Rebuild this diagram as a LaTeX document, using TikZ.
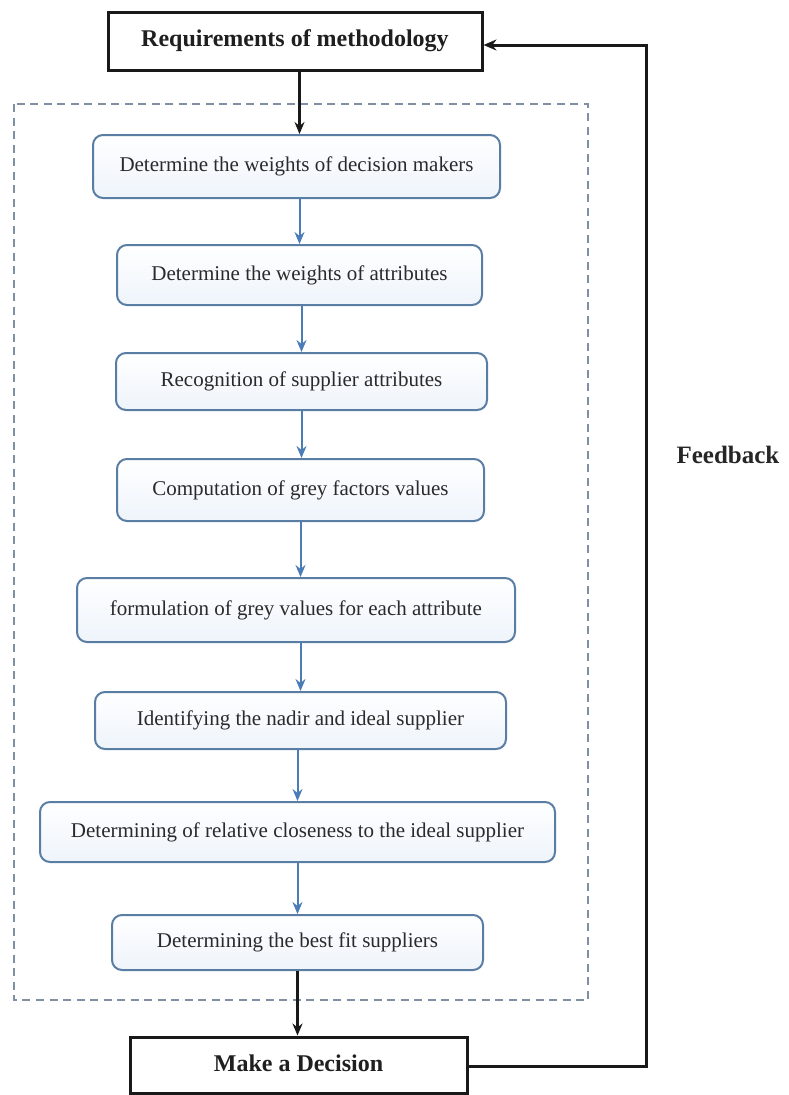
\documentclass[tikz,border=0pt]{standalone}
\usepackage{fontspec}
\setmainfont{Liberation Serif}
\usetikzlibrary{arrows.meta}
\definecolor{boxline}{HTML}{5A7DA3}
\definecolor{boxfill}{HTML}{EEF4FB}
\definecolor{arrblue}{HTML}{4A7DB8}
\definecolor{dashgray}{HTML}{8090A3}
\definecolor{txt}{HTML}{2A2A2A}
\tikzset{
  mainbox/.style={draw=black!90, line width=3pt, fill=white, inner sep=0pt,
    font=\fontsize{24}{28}\selectfont\bfseries, text=black!88},
  stepbox/.style={draw=boxline, line width=2pt, rounded corners=10pt,
    top color=white, bottom color=boxfill, inner sep=0pt,
    font=\fontsize{21}{24}\selectfont, text=txt},
  bluearr/.style={draw=arrblue, line width=2pt, -{Stealth[length=12pt,width=10pt]}},
  blackarr/.style={draw=black!90, line width=2.4pt, -{Stealth[length=12pt,width=10pt]}},
  fbline/.style={draw=black!90, line width=3pt, -{Stealth[length=13pt,width=11pt]}},
}
\newcommand{\up}[1]{\raisebox{3pt}{#1}}
\begin{document}
\begin{tikzpicture}[x=1pt,y=-1pt]
\useasboundingbox (0,0) rectangle (788,1095);
\draw[dashgray, line width=2.4pt, dash pattern=on 8pt off 5.5pt] (14,104) rectangle (588,1000);
\node[mainbox, minimum width=374pt, minimum height=58pt] (req) at (295,41) {Requirements of methodology};
\node[stepbox, minimum width=407pt, minimum height=63pt] (b1) at (296.5,166.5) {\up{Determine the weights of decision makers}};
\node[stepbox, minimum width=365pt, minimum height=60pt] (b2) at (299.5,275) {\up{Determine the weights of attributes}};
\node[stepbox, minimum width=371pt, minimum height=57pt] (b3) at (301.5,381.5) {\up{Recognition of supplier attributes}};
\node[stepbox, minimum width=367pt, minimum height=62pt] (b4) at (300.5,490) {\up{Computation of grey factors values}};
\node[stepbox, minimum width=438pt, minimum height=64pt] (b5) at (296,610) {\up{formulation of grey values for each attribute}};
\node[stepbox, minimum width=411pt, minimum height=57pt] (b6) at (300.5,720.5) {\up{Identifying the nadir and ideal supplier}};
\node[stepbox, minimum width=515pt, minimum height=60pt] (b7) at (297.5,832) {\up{Determining of relative closeness to the ideal supplier}};
\node[stepbox, minimum width=371pt, minimum height=55pt] (b8) at (297.5,942.5) {\up{Determining the best fit suppliers}};
\node[mainbox, minimum width=337pt, minimum height=56pt] (dec) at (298.5,1065) {\up{Make a Decision}};
\node[font=\fontsize{25}{28}\selectfont\bfseries, text=black!85] (fb) at (728,455) {Feedback};
\coordinate (c1) at (646,1066);
\coordinate (c2) at (646,45);
\draw[blackarr] (req.south -| b2.north) -- (b2.north |- b1.north);
\draw[bluearr] (b1.south -| b2.north) -- (b2.north);
\draw[bluearr] (b2.south -| b3.north) -- (b3.north);
\draw[bluearr] (b3.south) -- (b3.south |- b4.north);
\draw[bluearr] (b4.south) -- (b4.south |- b5.north);
\draw[bluearr] (b5.south -| b6.north) -- (b6.north);
\draw[bluearr] (b6.south -| b7.north) -- (b7.north);
\draw[bluearr] (b7.south -| b8.north) -- (b8.north);
\draw[blackarr] (b8.south) -- (b8.south |- dec.north);
\draw[fbline] (c1 -| dec.east) -- (c1) -- (c2) -- (c2 -| req.east);
\end{tikzpicture}
\end{document}
